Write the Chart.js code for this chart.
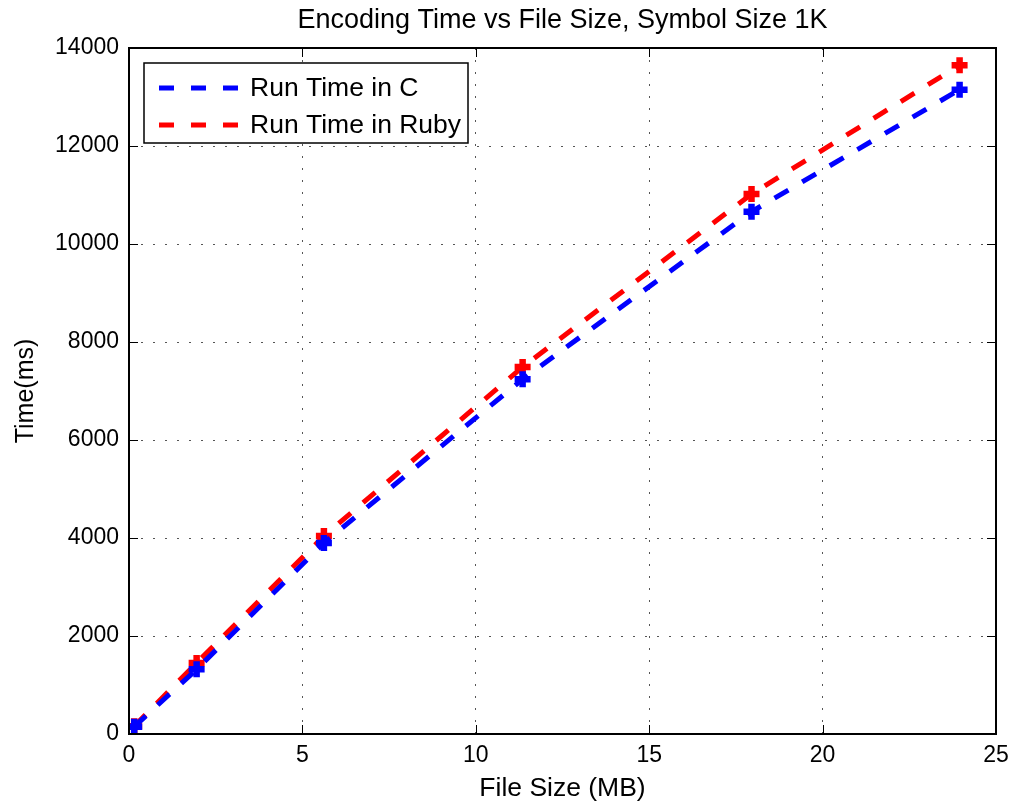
<!DOCTYPE html>
<html>
<head>
<meta charset="utf-8">
<script src="https://cdn.jsdelivr.net/npm/chart.js@4"></script>
<style>
  html, body { margin: 0; padding: 0; background: #fff; }
  #wrap { width: 1017px; height: 805px; }
</style>
</head>
<body>
<div id="wrap"><canvas id="encChart" width="1017" height="805"></canvas></div>
<script>
// Chart Data
const fileSizes = [0.15, 1.95, 5.62, 11.35, 17.95, 23.95];
const timeC = [150, 1320, 3900, 7240, 10660, 13150];
const timeRuby = [160, 1450, 4040, 7490, 11020, 13650];
const xTicks = [0, 5, 10, 15, 20, 25];
const yTicks = [0, 2000, 4000, 6000, 8000, 10000, 12000, 14000];
const seriesNames = ['Run Time in C', 'Run Time in Ruby'];

const fontFamily = '"Liberation Sans", Arial, sans-serif';

function toPoints(xs, ys) {
    return xs.map((x, i) => ({ x: x, y: ys[i] }));
}

// box + inward ticks + legend drawn on top
const framePlugin = {
    id: 'frame',
    afterDraw(chart) {
        const ctx = chart.ctx;
        const a = chart.chartArea;
        const xs = chart.scales.x, ys = chart.scales.y;
        ctx.save();
        ctx.strokeStyle = '#000';
        ctx.lineWidth = 1;
        ctx.beginPath();
        xTicks.forEach(v => {
            const p = Math.round(xs.getPixelForValue(v)) + 0.5;
            ctx.moveTo(p, a.bottom); ctx.lineTo(p, a.bottom - 9);
            ctx.moveTo(p, a.top); ctx.lineTo(p, a.top + 9);
        });
        yTicks.forEach(v => {
            const p = Math.round(ys.getPixelForValue(v)) + 0.5;
            ctx.moveTo(a.left, p); ctx.lineTo(a.left + 9, p);
            ctx.moveTo(a.right, p); ctx.lineTo(a.right - 9, p);
        });
        ctx.stroke();
        ctx.lineWidth = 2;
        ctx.strokeRect(a.left, a.top, a.right - a.left, a.bottom - a.top);

        // legend
        const lx = a.left + 15, ly = a.top + 15, lw = 324, lh = 80;
        ctx.fillStyle = '#fff';
        ctx.fillRect(lx, ly, lw, lh);
        ctx.strokeStyle = '#000';
        ctx.lineWidth = 1.5;
        ctx.strokeRect(lx, ly, lw, lh);
        ctx.font = '26.5px ' + fontFamily;
        ctx.textBaseline = 'middle';
        chart.data.datasets.forEach((ds, i) => {
            const y = ly + 25 + i * 37;
            ctx.strokeStyle = ds.borderColor;
            ctx.lineWidth = 5;
            ctx.setLineDash([15, 17]);
            ctx.beginPath();
            ctx.moveTo(lx + 15, y);
            ctx.lineTo(lx + 96, y);
            ctx.stroke();
            ctx.setLineDash([]);
            ctx.fillStyle = '#000';
            ctx.fillText(ds.label, lx + 106, y + 1);
        });
        ctx.restore();
    }
};

new Chart(document.getElementById('encChart'), {
    type: 'line',
    data: {
        datasets: [
            {
                label: seriesNames[0],
                data: toPoints(fileSizes, timeC),
                borderColor: '#0000ff',
                backgroundColor: '#0000ff',
                borderWidth: 5,
                borderDash: [16, 16],
                pointStyle: 'cross',
                pointRadius: 8,
                pointBorderWidth: 6.5,
                fill: false
            },
            {
                label: seriesNames[1],
                data: toPoints(fileSizes, timeRuby),
                borderColor: '#ff0000',
                backgroundColor: '#ff0000',
                borderWidth: 5,
                borderDash: [16, 16],
                pointStyle: 'cross',
                pointRadius: 8,
                pointBorderWidth: 6.5,
                fill: false
            }
        ]
    },
    options: {
        responsive: false,
        animation: false,
        layout: { padding: { left: 0, right: 21, top: 0, bottom: 0 } },
        scales: {
            x: {
                type: 'linear',
                min: 0,
                max: 25,
                afterBuildTicks: s => { s.ticks = xTicks.map(v => ({ value: v })); },
                afterFit: s => { s.height = 71; },
                grid: { color: '#555', lineWidth: 1, drawTicks: false },
                border: { display: false, dash: [2, 10] },
                ticks: { color: '#000', padding: 8, font: { family: fontFamily, size: 23 } },
                title: {
                    display: true,
                    text: 'File Size (MB)',
                    color: '#000',
                    padding: { top: 0, bottom: 0 },
                    font: { family: fontFamily, size: 26.5 }
                }
            },
            y: {
                type: 'linear',
                min: 0,
                max: 14000,
                afterBuildTicks: s => { s.ticks = yTicks.map(v => ({ value: v })); },
                afterFit: s => { s.width = 129; },
                grid: { color: '#555', lineWidth: 1, drawTicks: false },
                border: { display: false, dash: [2, 10] },
                ticks: {
                    color: '#000',
                    padding: 10,
                    font: { family: fontFamily, size: 23 },
                    callback: v => String(v)
                },
                title: {
                    display: true,
                    text: 'Time(ms)',
                    color: '#000',
                    padding: { top: 11, bottom: 0 },
                    font: { family: fontFamily, size: 25 }
                }
            }
        },
        plugins: {
            legend: { display: false },
            tooltip: { enabled: false },
            title: {
                display: true,
                fullSize: false,
                text: 'Encoding Time vs File Size, Symbol Size 1K',
                color: '#000',
                font: { family: fontFamily, size: 27, weight: 'normal', lineHeight: 1.2 },
                padding: { top: 4, bottom: 11.6 }
            }
        }
    },
    plugins: [framePlugin]
});
</script>
</body>
</html>
